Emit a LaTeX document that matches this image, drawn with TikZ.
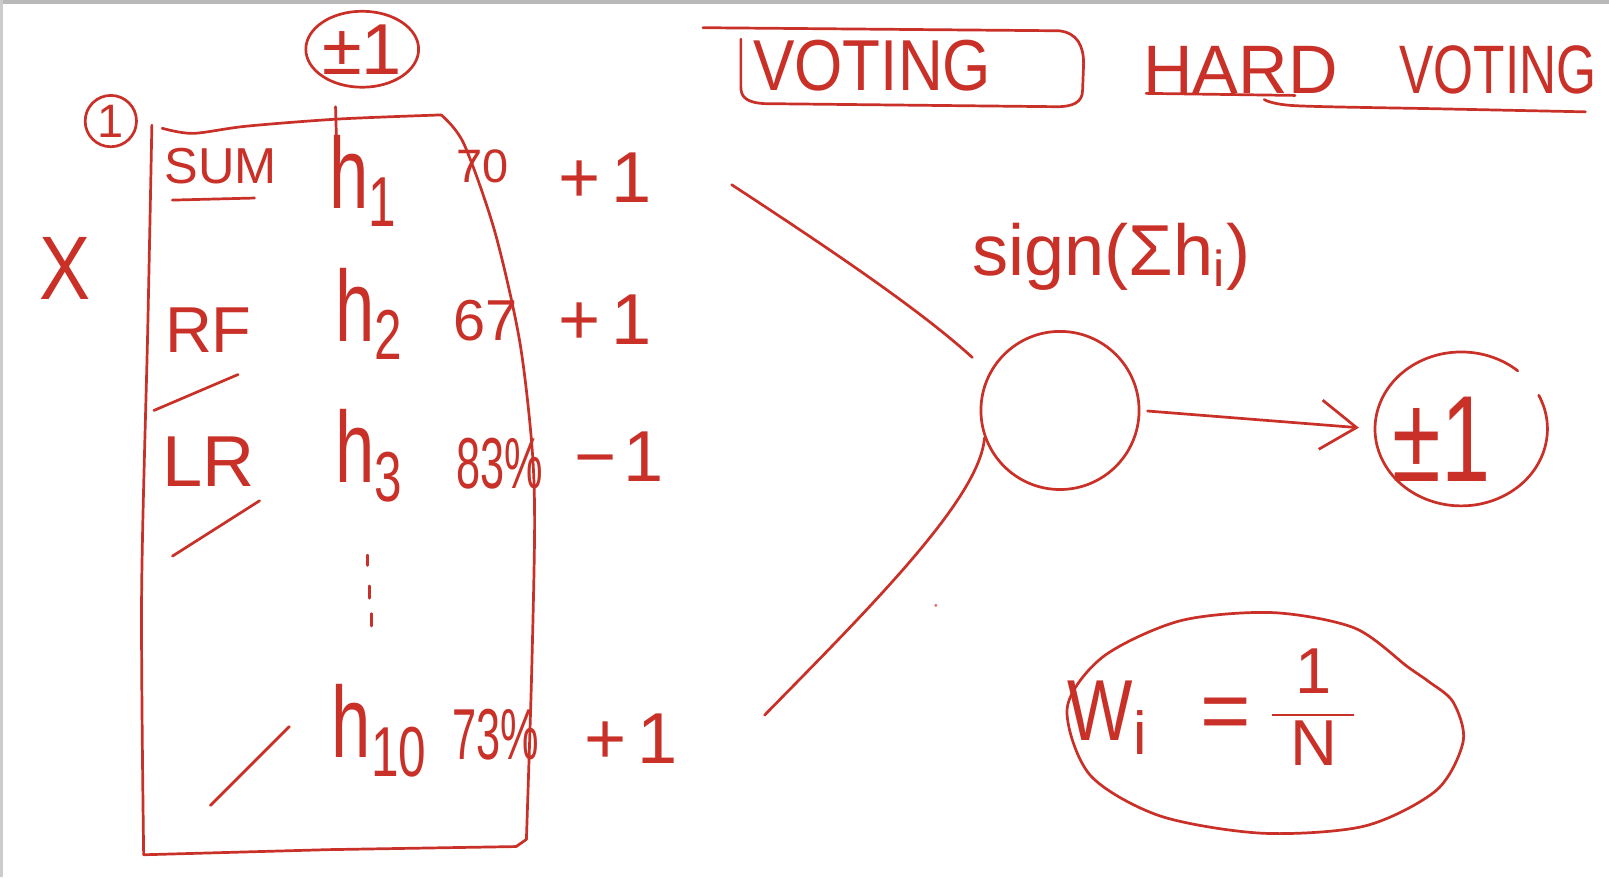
\documentclass[tikz,border=0pt]{standalone}
\usepackage{fontspec}
\setmainfont{Liberation Sans}
\usetikzlibrary{shapes.geometric,arrows.meta,calc}
\definecolor{inkred}{RGB}{200,48,40}
\newcommand\fs[1]{\fontsize{#1}{#1}\selectfont}
\newcommand\hx[1]{\scalebox{0.7}[1]{h\textsubscript{#1}}}
\begin{document}
\begin{tikzpicture}[x=0.01cm,y=-0.01cm,
  ink/.style={draw=inkred,line width=0.75pt,line cap=round,line join=round},
  lbl/.style={text=inkred,inner sep=0pt},
  ringnode/.style={ink,inner sep=0pt}]
\useasboundingbox (0,0) rectangle (1568,855);
\fill[white] (0,0) rectangle (1568,855);
\draw[gray!55,line width=1.6pt] (0,1) -- (1568,1);
\draw[gray!40,line width=1pt] (1,0) -- (1,855);

% ---- left: table of classifiers ----
\node[lbl,font=\fs{25}] (xin) at (63,262) {\scalebox{0.85}[1]{X}};
\node[ringnode,circle,minimum size=0.5cm,lbl,font=\fs{13}] (one) at (108,118) {1};
\node[ringnode,ellipse,minimum width=1.0cm,minimum height=0.74cm,lbl,font=\fs{20}] (pm) at (353,48) {±1};

% box
\draw[ink] plot[smooth] coordinates {(158,125) (188,130) (240,123) (330,116) (430,112)};
\draw[ink] plot[smooth] coordinates {(430,112) (452,140) (482,225) (506,330) (518,430) (521,510) (518,660) (513,818)};
\draw[ink] (513,818) -- (503,825) -- (320,828) -- (140,833);
\draw[ink] plot[smooth] coordinates {(148,122) (144,320) (138,580) (140,833)};
\draw[ink] (327,104) -- (328,140);

\node[lbl,font=\fs{14}] (suma) at (215,162) {SUM};
\draw[ink] (168,195) -- (248,193);
\node[lbl,font=\fs{18}] (rf) at (203,322) {RF};
\draw[ink] (150,400) -- (232,365);
\node[lbl,font=\fs{20}] (lr) at (203,450) {LR};
\draw[ink] (168,542) -- (253,488);
\draw[ink] (205,785) -- (282,708);

\node[lbl,font=\fs{28}] (h1) at (354,176) {\hx{1}};
\node[lbl,font=\fs{28}] (h2) at (360,306) {\hx{2}};
\node[lbl,font=\fs{28}] (h3) at (360,444) {\hx{3}};
\node[lbl,font=\fs{28}] (h10) at (370,712) {\hx{10}};
\draw[ink] (358,541) -- (358,551);
\draw[ink] (360,571) -- (360,583);
\draw[ink] (362,598) -- (362,610);

\node[lbl,font=\fs{13}] (p1) at (470,162) {70};
\node[lbl,font=\fs{16}] (p2) at (473,312) {67};
\node[lbl,font=\fs{20}] (p3) at (487,452) {\scalebox{0.6}[1]{83\%}};
\node[lbl,font=\fs{20}] (p10) at (483,716) {\scalebox{0.6}[1]{73\%}};

\node[lbl,font=\fs{20}] (v1) at (590,173) {+\hspace{0.15em}1};
\node[lbl,font=\fs{20}] (v2) at (590,312) {+\hspace{0.15em}1};
\node[lbl,font=\fs{20}] (v3) at (603,445) {−\hspace{0.1em}1};
\node[lbl,font=\fs{20}] (v10) at (615,720) {+\hspace{0.15em}1};

% ---- voting node ----
\coordinate (c1) at (713,180);
\coordinate (c2) at (745,697);
\node[ringnode,circle,minimum size=1.54cm] (vote) at (1033,400) {};
\draw[ink,shorten >=0.22cm] (c1) .. controls (820,250) and (900,305) .. (vote.152);
\draw[ink] (c2) .. controls (850,590) and (955,485) .. (vote.200);
\node[lbl,font=\fs{20}] (sig) at (1083,250) {sign(Σh\textsubscript{i})};

\node[ellipse,minimum width=1.68cm,minimum height=1.5cm,inner sep=0pt] (out) at (1424,418) {};
\draw[ink] ($(out.center)+(-26:84 and 75)$) arc[start angle=-26,end angle=311,x radius=84,y radius=75];
\node[lbl,font=\fs{34}] (outtxt) at (1405,428) {\scalebox{0.72}[1]{±1}};
\draw[ink,-{Straight Barb[length=0.35cm,width=0.48cm]},shorten <=0.07cm,shorten >=0.15cm] (vote.east) -- (out.west);

% ---- titles ----
\draw[ink] (685,27) -- (1032,30) .. controls (1050,32) and (1056,45) .. (1056,62) -- (1055,88)
  .. controls (1055,100) and (1045,104) .. (1030,104) -- (745,101)
  .. controls (728,100) and (722,95) .. (722,85) -- (722,38);
\node[lbl,font=\fs{20}] (voting) at (850,64) {\scalebox{0.86}[1]{VOTING}};
\node[lbl,font=\fs{19}] (hard) at (1335,68) {HARD\hspace{0.9em}\scalebox{0.75}[1]{VOTING}};
\draw[ink] (1117,91) -- (1262,93);
\draw[ink] plot[smooth] coordinates {(1232,97) (1262,103) (1400,106) (1545,109)};

% ---- weights ----
\draw[ink] plot[smooth cycle] coordinates {(1040,690) (1075,640) (1150,605) (1240,597) (1320,612) (1372,650) (1392,664) (1416,684) (1426,722) (1400,770) (1330,805) (1230,812) (1130,795) (1062,755)};
\node[lbl,font=\fs{24},anchor=base west] (wi) at (1040,722) {\scalebox{0.8}[1]{W}\textsubscript{i}\hspace{0.6em}=};
\node[lbl,font=\fs{18}] (frac) at (1280,697) {\renewcommand\arraystretch{1.1}\color{inkred}\begin{tabular}{@{\hspace{0.27em}}c@{\hspace{0.27em}}}1\\\hline N\end{tabular}};
\fill[inkred!70] (912,590) circle[radius=1.6];
\end{tikzpicture}
\end{document}
